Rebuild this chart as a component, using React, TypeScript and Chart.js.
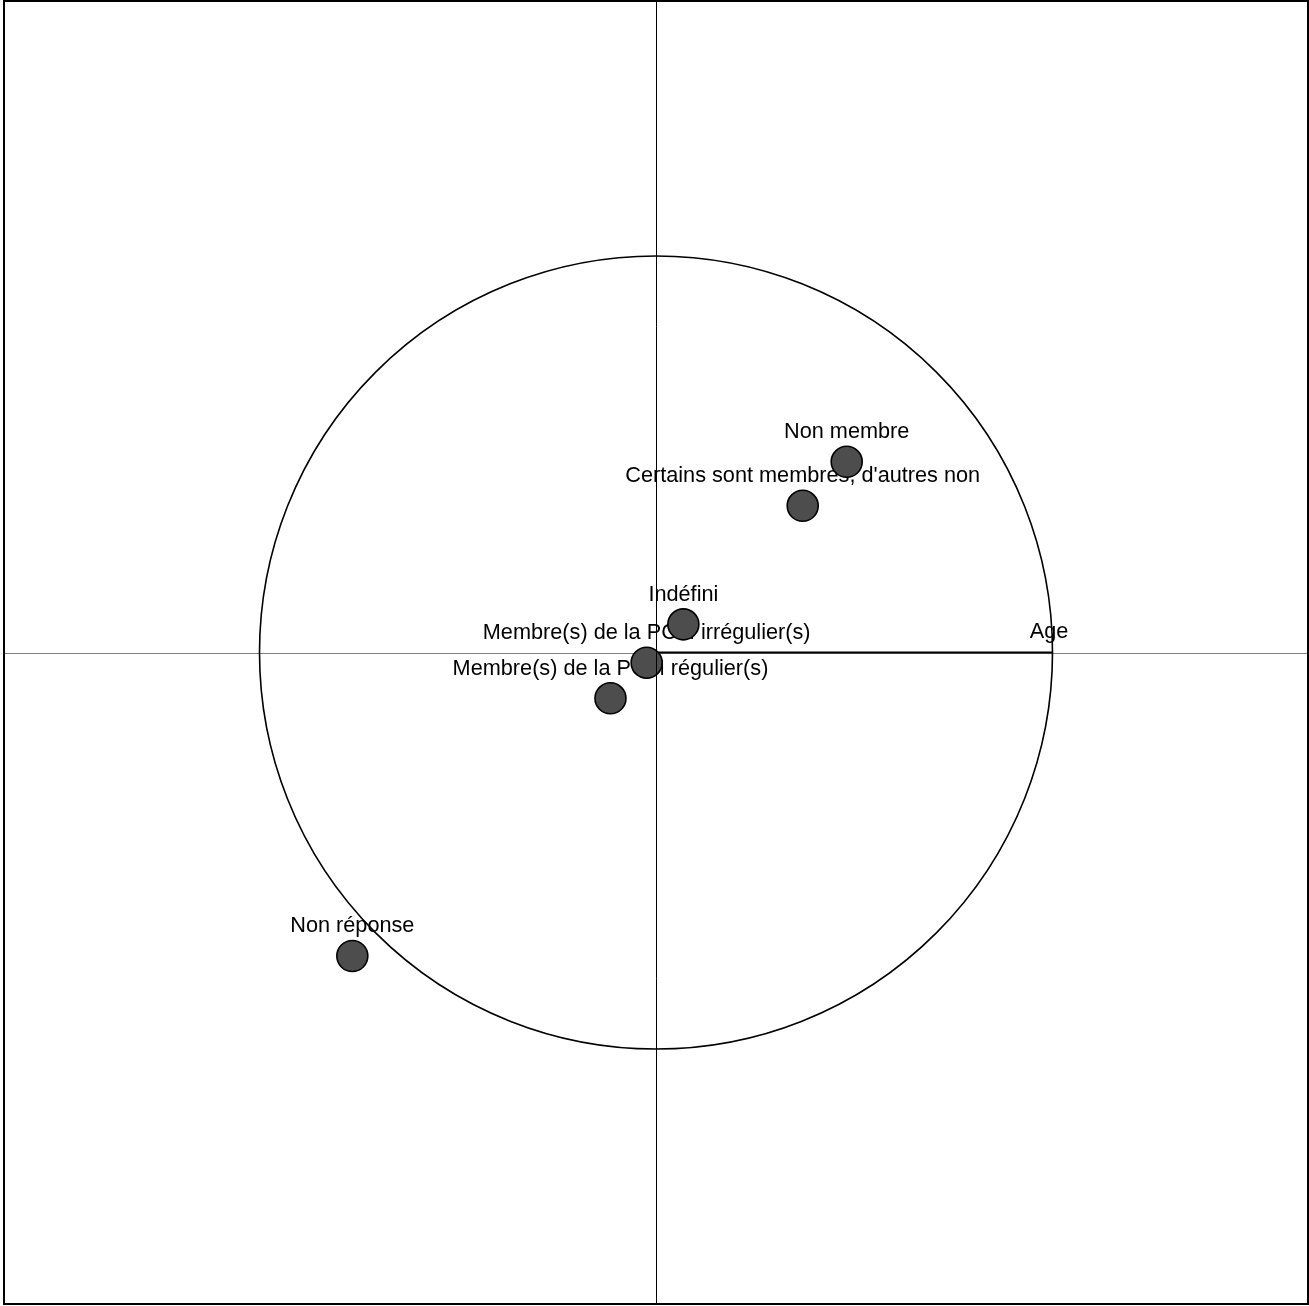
import React, { useEffect, useRef } from "react";
import { Chart, registerables } from "chart.js";

Chart.register(...registerables);

const categories = [
  "Non membre",
  "Certains sont membres, d'autres non",
  "Indéfini",
  "Membre(s) de la PCM irrégulier(s)",
  "Membre(s) de la PCM régulier(s)",
  "Non réponse",
];
const xValues = [0.481, 0.37, 0.069, -0.0235, -0.1148, -0.7659];
const yValues = [0.481, 0.37, 0.071, -0.0257, -0.1155, -0.7654];

const vectorNames = ["Age"];
const vectorX = [0.9987];
const vectorY = [0.0];

const axisMin = -1.6444;
const axisMax = 1.6444;
const axisMinY = -1.6431;
const axisMaxY = 1.6431;

const FONT = '21.7px "Liberation Sans", Arial, sans-serif';

export default function App() {
  const ref = useRef<HTMLCanvasElement | null>(null);

  useEffect(() => {
    if (!ref.current) return;

    const backgroundPlugin = {
      id: "circleDecor",
      beforeDatasetsDraw(chart: any) {
        const { ctx, chartArea, scales } = chart;
        const xs = scales.x;
        const ys = scales.y;
        const cx = xs.getPixelForValue(0);
        const cy = ys.getPixelForValue(0);
        ctx.save();
        ctx.strokeStyle = "#808080";
        ctx.lineWidth = 1;
        ctx.beginPath();
        ctx.moveTo(chartArea.left, Math.round(cy) + 0.5);
        ctx.lineTo(chartArea.right, Math.round(cy) + 0.5);
        ctx.stroke();
        const r = xs.getPixelForValue(1) - cx;
        ctx.strokeStyle = "#000";
        ctx.lineWidth = 1.6;
        ctx.beginPath();
        ctx.arc(cx, cy, r, 0, Math.PI * 2);
        ctx.stroke();
        ctx.fillStyle = "#000";
        ctx.font = FONT;
        ctx.textAlign = "center";
        ctx.textBaseline = "alphabetic";
        categories.forEach((c, i) => {
          const px = xs.getPixelForValue(xValues[i]);
          const py = ys.getPixelForValue(yValues[i]);
          ctx.fillText(c, px, py - 23.5);
        });
        vectorNames.forEach((v, i) => {
          const px = xs.getPixelForValue(vectorX[i]);
          const py = ys.getPixelForValue(vectorY[i]);
          ctx.fillText(v, px - 3, py - 14.5);
        });
        ctx.restore();
      },
      afterDatasetsDraw(chart: any) {
        const { ctx, chartArea, scales } = chart;
        const cx = scales.x.getPixelForValue(0);
        ctx.save();
        ctx.strokeStyle = "#000";
        ctx.lineWidth = 1;
        ctx.beginPath();
        ctx.moveTo(Math.round(cx) + 0.5, chartArea.top);
        ctx.lineTo(Math.round(cx) + 0.5, chartArea.bottom);
        ctx.stroke();
        ctx.lineWidth = 2;
        ctx.strokeRect(
          chartArea.left,
          chartArea.top,
          chartArea.right - chartArea.left,
          chartArea.bottom - chartArea.top
        );
        ctx.restore();
      },
    };

    const vectorDatasets = vectorNames.map((n, i) => ({
      type: "line" as const,
      label: n,
      data: [
        { x: 0, y: 0 },
        { x: vectorX[i], y: vectorY[i] },
      ],
      borderColor: "#000",
      borderWidth: 2,
      pointRadius: 0,
      showLine: true,
      order: 2,
    }));

    const chart = new Chart(ref.current, {
      type: "scatter",
      data: {
        datasets: [
          ...vectorDatasets,
          {
            type: "scatter" as const,
            label: "Modalités",
            data: xValues.map((x, i) => ({ x, y: yValues[i] })),
            pointRadius: 15.5,
            backgroundColor: "#4d4d4d",
            borderColor: "#000",
            borderWidth: 1.6,
            order: 1,
          },
        ] as any,
      },
      options: {
        responsive: false,
        animation: false,
        devicePixelRatio: 1,
        layout: { autoPadding: false, padding: { left: 4, right: 1, top: 1, bottom: 2 } },
        plugins: {
          legend: { display: false },
          tooltip: { enabled: false },
        },
        scales: {
          x: { type: "linear", min: axisMin, max: axisMax, display: false },
          y: { type: "linear", min: axisMinY, max: axisMaxY, display: false },
        },
      },
      plugins: [backgroundPlugin],
    });

    return () => chart.destroy();
  }, []);

  return (
    <div
      style={{
        position: "absolute",
        left: 0,
        top: 0,
        width: 1309,
        height: 1306,
        background: "#fff",
      }}
    >
      <canvas ref={ref} width={1309} height={1306} style={{ display: "block" }} />
    </div>
  );
}
